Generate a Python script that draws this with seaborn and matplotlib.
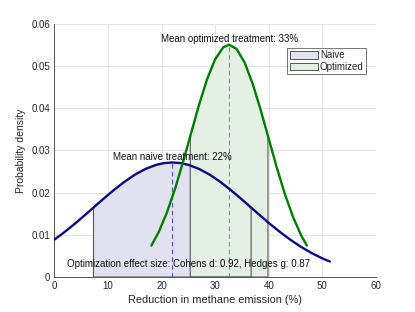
import numpy as np
import pandas as pd
import matplotlib
matplotlib.use("Agg")
import matplotlib.pyplot as plt
import seaborn as sns

# ---- data ----
naive_x = [0, 2, 4, 6, 7.3, 9, 11, 13, 15, 17, 19, 20.5, 22, 23.5, 25, 27, 29, 31,
           33, 35, 36.7, 38, 40, 42, 44, 46, 48, 50, 51.4]
naive_y = [0.00886, 0.01076, 0.01282, 0.01501, 0.01646, 0.01836, 0.02051, 0.02250,
           0.02423, 0.02561, 0.02658, 0.02700, 0.02714, 0.02700, 0.02658, 0.02561,
           0.02423, 0.02250, 0.02051, 0.01836, 0.01646, 0.01501, 0.01282, 0.01076,
           0.00886, 0.00716, 0.00568, 0.00442, 0.00367]
opt_x = [18.1, 19.5, 21, 22.5, 24, 25.35, 27, 28.5, 30, 31.5, 32.6, 34, 35.5, 37,
         38.5, 39.85, 41.5, 43, 44.5, 46, 47.1]
opt_y = [0.00745, 0.01075, 0.01530, 0.02086, 0.02723, 0.03338, 0.04084, 0.04690,
         0.05160, 0.05440, 0.05503, 0.05401, 0.05080, 0.04577, 0.03952, 0.03338,
         0.02590, 0.01967, 0.01431, 0.00997, 0.00745]
naive_mean, naive_peak = 22.0, 0.02714
opt_mean, opt_peak = 32.6, 0.05503
naive_band = (7.3, 36.7)
opt_band = (25.35, 39.85)
series_names = ["Naive", "Optimized"]
naive_label = "Mean naive treatment: 22%"
opt_label = "Mean optimized treatment: 33%"
effect_label = "Optimization effect size: Cohens d: 0.92, Hedges g: 0.87"
x_ticks = [0, 10, 20, 30, 40, 50, 60]
y_ticks = [0, 0.01, 0.02, 0.03, 0.04, 0.05, 0.06]
y_tick_labels = ["0", "0.01", "0.02", "0.03", "0.04", "0.05", "0.06"]
x_label = "Reduction in methane emission (%)"
y_label = "Probability density"

# ---- styling ----
sns.set_style("white")
plt.rcParams["font.family"] = ["Liberation Sans", "DejaVu Sans"]

naive_line = "#0a0a8c"
opt_line = "#008000"
naive_fill = "#e1e1f0"
opt_fill = "#e4f0e4"
edge_col = "#555555"

fig = plt.figure(figsize=(4.15, 3.12), dpi=100)
ax = fig.add_axes([0.131, 0.112, 0.775, 0.812])

nx, ny = np.array(naive_x), np.array(naive_y)
ox, oy = np.array(opt_x), np.array(opt_y)
nm = (nx >= naive_band[0] - 1e-9) & (nx <= naive_band[1] + 1e-9)
om = (ox >= opt_band[0] - 1e-9) & (ox <= opt_band[1] + 1e-9)

# fills
ax.fill_between(nx[nm], ny[nm], 0, facecolor=naive_fill, edgecolor="none", zorder=1)
ax.fill_between(ox[om], oy[om], 0, facecolor=opt_fill, edgecolor="none", zorder=1.1)
ax.fill_between(nx[nm], ny[nm], 0, facecolor="none", edgecolor=edge_col, linewidth=0.8, zorder=1.5)
ax.fill_between(ox[om], oy[om], 0, facecolor="none", edgecolor=edge_col, linewidth=0.8, zorder=1.5)

# curves
df_n = pd.DataFrame({"x": naive_x, "y": naive_y})
df_o = pd.DataFrame({"x": opt_x, "y": opt_y})
sns.lineplot(data=df_n, x="x", y="y", ax=ax, color=naive_line, linewidth=1.7, sort=False, zorder=3)
sns.lineplot(data=df_o, x="x", y="y", ax=ax, color=opt_line, linewidth=1.7, sort=False, zorder=3)

# mean lines
ax.plot([naive_mean, naive_mean], [0, naive_peak], color="#5050d0", linestyle=(0, (4, 3)), linewidth=0.8, zorder=2)
ax.plot([opt_mean, opt_mean], [0, opt_peak], color="#50b050", linestyle=(0, (4, 3)), linewidth=0.8, zorder=2)

ax.text(naive_mean, 0.0284, naive_label, ha="center", va="center", fontsize=7, color="#111111", zorder=4)
ax.text(opt_mean, 0.0564, opt_label, ha="center", va="center", fontsize=7, color="#111111", zorder=4)
ax.text(25.1, 0.0031, effect_label, ha="center", va="center", fontsize=7, color="#111111", zorder=4)

ax.set_xlim(0, 60)
ax.set_ylim(0, 0.06)
ax.set_xticks(x_ticks)
ax.set_yticks(y_ticks)
ax.set_yticklabels(y_tick_labels)
ax.set_xlabel(x_label, fontsize=7.9, color="#262626", labelpad=3)
ax.set_ylabel(y_label, fontsize=7.5, color="#262626", labelpad=4)
ax.tick_params(axis="both", labelsize=7, colors="#262626", direction="in", length=2.5, width=0.6, pad=3)
ax.grid(True, color="#e5e5e5", linewidth=0.7, zorder=0)
ax.set_axisbelow(True)
for s in ["top", "right"]:
    ax.spines[s].set_visible(False)
for s in ["left", "bottom"]:
    ax.spines[s].set_color("#555555")
    ax.spines[s].set_linewidth(0.7)

h1 = plt.Rectangle((0, 0), 1, 1, facecolor=naive_fill, edgecolor=edge_col, linewidth=0.7)
h2 = plt.Rectangle((0, 0), 1, 1, facecolor=opt_fill, edgecolor=edge_col, linewidth=0.7)
leg = ax.legend([h1, h2], series_names, loc="upper right", bbox_to_anchor=(0.969, 0.904),
                fontsize=7, frameon=True, fancybox=False, framealpha=1, edgecolor="#777777",
                handlelength=2.9, handleheight=0.8, handletextpad=0.2, labelspacing=0.15,
                borderpad=0.25, borderaxespad=0)
leg.get_frame().set_linewidth(0.7)

fig.savefig("out.png", dpi=100)
